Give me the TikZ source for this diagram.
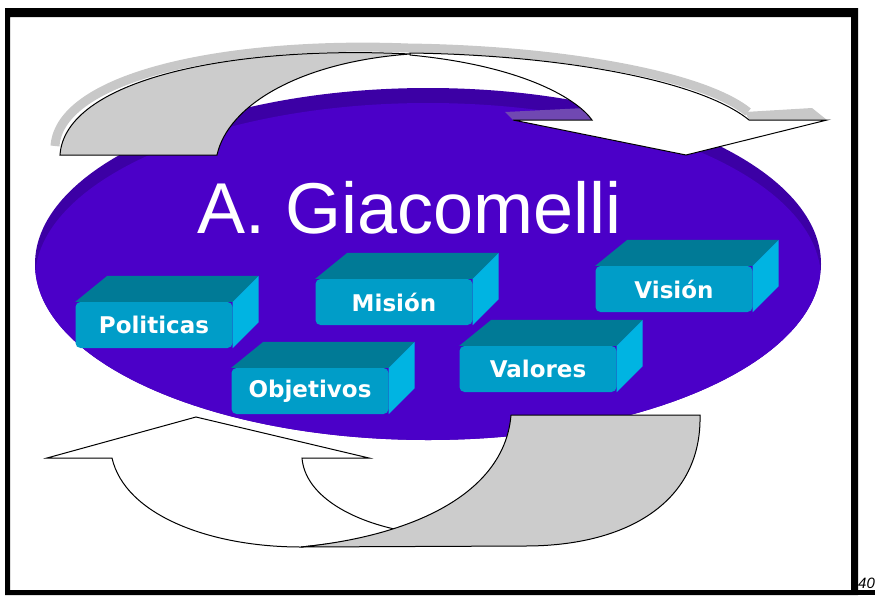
\documentclass[tikz,border=0pt]{standalone}
\usepackage{fontspec}
\setmainfont{Liberation Sans}
\newfontfamily\cajafont{DejaVu Sans}
\usepackage{tikz}
\usetikzlibrary{calc}

\definecolor{elipse}{RGB}{75,0,200}
\definecolor{elipseosc}{RGB}{60,0,165}
\definecolor{frente}{RGB}{0,157,200}
\definecolor{tapa}{RGB}{0,122,150}
\definecolor{lado}{RGB}{0,180,226}
\definecolor{gris}{RGB}{204,204,204}
\definecolor{sombra}{RGB}{200,200,200}
\definecolor{lila}{RGB}{112,72,178}

\pgfdeclarelayer{fondo}
\pgfsetlayers{fondo,main}

\begin{document}
\begin{tikzpicture}[x=1pt, y=-1pt,
    caja/.style={fill=frente, rounded corners=5pt, minimum width=157pt, minimum height=46pt, inner sep=0pt, text=white, font=\cajafont\bfseries\fontsize{23}{23}\selectfont},
    tapacaja/.style={fill=tapa},
    ladocaja/.style={fill=lado},
    cinta/.style={draw=black, line width=1pt},
    sombracinta/.style={draw=sombra, line width=9pt},
  ]
  \useasboundingbox (0,0) rectangle (875,595);
  \clip (0,0) rectangle (875,595);
  \fill[black, even odd rule] (5,8) rectangle (858,595) (10,17) rectangle (851,590);
  \fill[black] (858,590) rectangle (875,595);

  \begin{pgfonlayer}{fondo}
    \fill[elipseosc] (428,264) ellipse [x radius=393pt, y radius=176pt];
    \begin{scope}
      \clip (428,264) ellipse [x radius=393pt, y radius=176pt];
      \fill[elipse] (428,279) ellipse [x radius=393pt, y radius=176pt];
    \end{scope}
  \end{pgfonlayer}

  \draw[sombracinta] (55,146) .. controls (60,76) and (227,41) .. (408,48) .. controls (560,50) and (702,75) .. (748,112);
  \fill[sombra] (745,112) -- (812,108) -- (827,120) -- (749,120) -- cycle;
  \fill[lila] (505,112) -- (585,108) -- (592,120) -- (513,120) -- cycle;
  \filldraw[cinta, fill=gris] (60,155) -- (217,155) .. controls (228,105) and (300,62) .. (410,54) .. controls (230,45) and (65,80) .. (60,155) -- cycle;
  \filldraw[cinta, fill=white] (410,53) .. controls (560,55) and (700,80) .. (749,120) -- (827,120) -- (686,155) -- (513,120) -- (592,120) .. controls (578,100) and (525,66) .. (410,55) -- cycle;

  \filldraw[cinta, fill=white] (47,458) -- (112,458) .. controls (125,515) and (210,547) .. (301,547) .. controls (340,543) and (370,538) .. (399,530) .. controls (350,520) and (305,495) .. (302,458) -- (369,458) -- (196,417) -- cycle;
  \filldraw[cinta, fill=gris] (511,415) -- (700,415) .. controls (702,500) and (630,546) .. (525,546) -- (301,547) .. controls (420,535) and (505,490) .. (511,415) -- cycle;

  \node[text=white, anchor=base, inner sep=0pt, font=\fontsize{72}{72}\selectfont] (titulo) at (410,233) {A. Giacomelli};

  \node[caja] (pol) at (154,325) {Politicas};
  \node[caja] (mis) at (394,302) {Misión};
  \node[caja] (vis) at (674,289) {Visión};
  \node[caja] (obj) at (310,391) {Objetivos};
  \node[caja] (val) at (538,369) {Valores};

  \begin{pgfonlayer}{fondo}
    \foreach \nombre in {pol,mis,vis,obj,val}{
      \fill[tapacaja] (\nombre.north west) -- ++(32,-26) -- ($(\nombre.north east)+(26,-26)$) -- (\nombre.north east) -- cycle;
      \fill[ladocaja] (\nombre.north east) -- ($(\nombre.north east)+(26,-26)$) -- ($(\nombre.south east)+(26,-26)$) -- (\nombre.south east) -- cycle;
    }
  \end{pgfonlayer}

  \node[anchor=base west, inner sep=0pt, font=\itshape\fontsize{15}{15}\selectfont] (pagina) at (858,588) {40};
\end{tikzpicture}
\end{document}
